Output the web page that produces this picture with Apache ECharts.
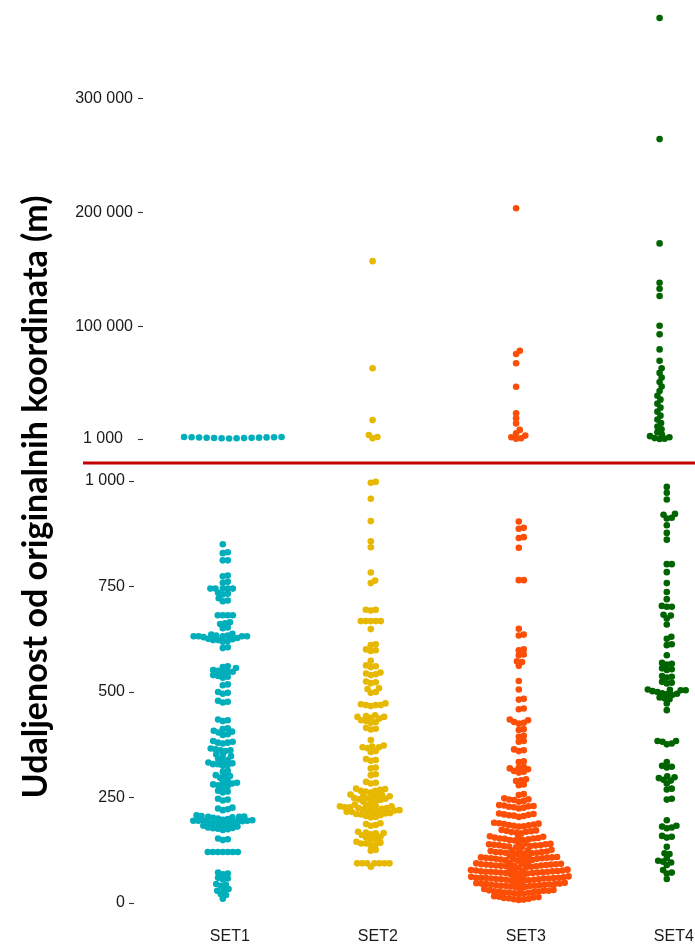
<!DOCTYPE html>
<html>
<head>
<meta charset="utf-8">
<script src="https://cdn.jsdelivr.net/npm/echarts@6/dist/echarts.min.js"></script>
<style>
  html, body { margin: 0; padding: 0; background: #ffffff; }
  #chart { width: 695px; height: 946px; }
</style>
</head>
<body>
<div id="chart"></div>
<script>
// Distance from original coordinates (m), four data sets.
const categories = ['SET1', 'SET2', 'SET3', 'SET4'];

// Values up to 1 000 m (lower panel)
const set1Near = [
  850, 829, 831, 812, 812, 774, 776, 759, 761, 745, 745, 745, 745, 745,
  733, 735, 731, 722, 715, 717, 682, 682, 682, 682, 663, 665, 661, 653, 651,
  632, 632, 632, 634, 630, 636, 628, 632, 638, 626, 632, 634,
  623, 621, 625, 619, 623, 604, 606, 559, 561, 557, 548, 548, 550, 546, 552,
  536, 538, 534, 540, 516, 518, 498, 500, 496, 477, 479, 475, 433, 435, 431,
  412, 414, 406, 404, 408, 400, 398, 380, 380, 382, 378, 384,
  362, 364, 360, 366, 362, 350, 348, 352, 339, 341, 337,
  329, 329, 331, 327, 333, 325, 311, 313, 299, 301, 297, 303,
  285, 287, 283, 289, 281, 277, 275, 279, 264, 266, 262, 245, 247, 243,
  222, 224, 220, 226, 204, 204, 206, 202, 208, 200, 205, 203,
  195, 195, 195, 197, 193, 199, 191, 195, 196, 194,
  187, 189, 185, 191, 183, 188, 177, 179, 175, 181, 173, 178, 176,
  151, 153, 149, 121, 121, 121, 121, 121, 121, 121,
  70, 72, 68, 58, 60, 56, 43, 45, 41, 31, 33, 29, 19, 21, 10
];
const set2Near = [
  996, 998, 958, 905, 857, 843, 783, 764, 758, 695, 695, 693,
  668, 668, 668, 668, 668, 649, 611, 613, 599, 601, 597, 574,
  561, 563, 559, 542, 544, 540, 546, 523, 525, 521, 507, 509, 498, 500,
  469, 469, 471, 467, 473, 469, 441, 443, 439, 445, 441, 437,
  429, 431, 427, 433, 413, 415, 411, 386, 369, 371, 367, 373, 369,
  358, 360, 339, 341, 337, 319, 321, 303, 305, 285, 287, 283,
  266, 268, 264, 270, 262, 266, 271, 253, 255, 251, 257, 249, 253, 256,
  244, 246, 242, 248, 240, 239, 247, 227, 229, 225, 231, 223, 227, 229, 225, 230, 226, 233, 222,
  216, 218, 214, 220, 212, 216, 219, 213, 217, 211, 206, 208, 204, 210, 203,
  185, 187, 183, 189, 165, 167, 163, 169, 161, 166, 153, 155, 151, 157,
  141, 143, 139, 145, 137, 141, 124, 126,
  94, 94, 94, 94, 94, 94, 94, 86
];
const set3Near = [
  904, 887, 889, 865, 867, 842, 765, 765, 650, 634, 636, 599, 601, 587, 589,
  571, 573, 562, 526, 506, 482, 484, 459, 461, 433, 435,
  427, 429, 425, 410, 412, 394, 396, 382, 384, 362, 364, 360, 334, 336,
  319, 321, 317, 323, 311, 313, 309, 291, 293, 289, 279, 281, 256, 258,
  244, 246, 242, 248, 240, 245, 228, 230, 226, 232, 224, 229, 227, 231,
  208, 210, 206, 212, 204, 209, 207, 211,
  185, 187, 183, 189, 181, 186, 184, 188, 182, 190,
  169, 171, 167, 173, 165, 170, 168, 172,
  153, 155, 151, 157, 149, 154, 152, 156, 150, 158, 148, 153,
  137, 139, 135, 141, 133, 138, 136, 140, 134, 142, 132, 137, 139, 135,
  121, 123, 119, 125, 117, 122, 120, 124, 118, 126, 116, 121, 123, 119,
  106, 108, 104, 110, 102, 107, 105, 109, 103, 111, 101, 106, 108, 104, 100, 112, 105, 107,
  90, 92, 88, 94, 86, 91, 89, 93, 87, 95, 85, 90, 92, 88, 84, 96, 91, 89, 93, 87,
  74, 76, 72, 78, 70, 75, 73, 77, 71, 79, 69, 74, 76, 72, 68, 80, 75, 73, 77, 71, 74, 76,
  58, 60, 56, 62, 54, 59, 57, 61, 55, 63, 53, 58, 60, 56, 52, 64, 59, 57, 61, 55, 58, 60,
  43, 45, 41, 47, 39, 44, 42, 46, 40, 48, 38, 43, 45, 41, 37, 49, 44, 42, 46, 40,
  27, 29, 25, 31, 23, 28, 26, 30, 24, 32, 22, 27, 29, 25, 33, 21,
  11, 13, 9, 15, 7, 12, 10, 14, 8, 16
];
const set4Near = [
  986, 972, 956, 920, 922, 911, 913, 895, 877, 861, 803, 803, 784, 758, 737, 720,
  702, 702, 704, 681, 683, 674, 660, 631, 626, 611, 613, 587, 567, 569, 565,
  554, 556, 552, 536, 538, 534, 522, 524, 520, 504, 504, 506, 502, 500, 505,
  495, 497, 493, 496, 485, 487, 483, 473, 457, 384, 384, 382, 376, 378, 334,
  323, 325, 321, 298, 300, 296, 290, 292, 283, 269, 271, 245, 247, 196,
  179, 181, 177, 183, 157, 159, 155, 133, 116, 118, 106, 98, 100, 96, 90, 78, 70, 72, 57
];

// Values above 1 000 m (upper panel)
const set1Far = [1500, 1600, 1700, 1800, 1900, 2000, 2100, 2200, 2300, 2400, 2500, 2600, 2700, 2800];
const set2Far = [157000, 63000, 17600, 4500, 2800, 1600];
const set3Far = [203400, 78400, 75500, 67400, 46800, 23500, 19100, 14700,
  9000, 6000, 4000, 2500, 1600, 1200];
const set4Far = [370300, 264100, 172600, 138100, 132800, 126400, 100400, 92800, 79600, 69700,
  63000, 59000, 55000, 51000, 47000, 43000, 39000, 35500, 32000, 28500, 25000, 21500,
  18000, 15000, 12000, 9500, 7000, 5000, 3500, 2500, 1800, 1300, 1100];

const upperTicks = [1000, 100000, 200000, 300000];
const lowerTicks = [0, 250, 500, 750, 1000];

const palette = ['#00AFBB', '#E7B800', '#FC4E07', '#006400'];
const nearSets = [set1Near, set2Near, set3Near, set4Near];
const farSets = [set1Far, set2Far, set3Far, set4Far];

function thousands(v) {
  return String(v).replace(/\B(?=(\d{3})+(?!\d))/g, ' ');
}

const labelFont = { fontFamily: 'Liberation Sans, Arial, sans-serif', fontSize: 16, color: '#1a1a1a' };
const tickStyle = { show: true, length: 5, lineStyle: { color: '#333333', width: 1.1 } };

const chart = echarts.init(document.getElementById('chart'), null, { renderer: 'canvas' });

const baseOption = {
  animation: false,
  backgroundColor: '#ffffff',
  grid: [
    { left: 143, top: 2.4, width: 602.7, height: 436.6, containLabel: false, outerBoundsMode: 'none' },
    { left: 134, top: 481, width: 621.6, height: 422, containLabel: false, outerBoundsMode: 'none' }
  ],
  xAxis: [
    { gridIndex: 0, type: 'value', min: 0.4, max: 4.6, show: false },
    {
      gridIndex: 1, type: 'value', min: 0.4, max: 4.6,
      axisLine: { show: false }, splitLine: { show: false }, axisTick: { show: false },
      axisLabel: Object.assign({
        customValues: [1, 2, 3, 4],
        formatter: v => '{cat|' + categories[Math.round(v) - 1] + '}',
        rich: { cat: Object.assign({ padding: [0, 0, 0, 14] }, labelFont) },
        margin: 26
      }, labelFont)
    }
  ],
  yAxis: [
    {
      gridIndex: 0, type: 'value', min: 1000, max: 384000,
      axisLine: { show: false }, splitLine: { show: false },
      axisTick: Object.assign({ customValues: upperTicks }, tickStyle),
      axisLabel: Object.assign({
        customValues: upperTicks,
        margin: 10,
        formatter: v => v === 1000 ? '{pad|' + thousands(v) + '}' : thousands(v),
        rich: { pad: Object.assign({ padding: [0, 10, 0, 0] }, labelFont) }
      }, labelFont)
    },
    {
      gridIndex: 1, type: 'value', min: 0, max: 1000, interval: 250,
      axisLine: { show: false }, splitLine: { show: false },
      axisTick: tickStyle,
      axisLabel: Object.assign({ margin: 9, formatter: v => thousands(v) }, labelFont)
    }
  ],
  graphic: [
    {
      type: 'text', x: 36, y: 497, rotation: Math.PI / 2,
      style: {
        text: 'Udaljenost od originalnih koordinata (m)',
        font: 'bold 34px Lato, "Open Sans", sans-serif',
        fill: '#000000', align: 'center', verticalAlign: 'middle'
      }
    },
    {
      type: 'line', shape: { x1: 83, y1: 463, x2: 695, y2: 463 },
      style: { stroke: '#c40000', lineWidth: 3 }
    }
  ],
  series: []
};
chart.setOption(baseOption);

// Beeswarm layout: each point takes the horizontal offset closest to the
// category centre that keeps it at least `gap` px from the points placed before it.
function swarmOffsets(ys, gap) {
  const order = ys.map((_, i) => i).sort((a, b) => ys[b] - ys[a]);
  const xs = new Array(ys.length).fill(0);
  const placed = [];
  for (const i of order) {
    const y = ys[i];
    const near = placed.filter(p => Math.abs(p.y - y) < gap);
    const cand = [0];
    for (const p of near) {
      const dx = Math.sqrt(gap * gap - (p.y - y) * (p.y - y));
      cand.push(p.x + dx, p.x - dx);
    }
    cand.sort((a, b) => Math.abs(a) - Math.abs(b));
    let x = 0;
    for (const c of cand) {
      if (near.every(p => (p.x - c) * (p.x - c) + (p.y - y) * (p.y - y) >= gap * gap - 1e-6)) { x = c; break; }
    }
    xs[i] = x;
    placed.push({ x, y });
  }
  return xs;
}

function swarmPoints(values, catIndex, gridIndex, gap) {
  const finder = { gridIndex };
  const centre = catIndex + 1;
  const unit = chart.convertToPixel(finder, [2, 0])[0] - chart.convertToPixel(finder, [1, 0])[0];
  const ys = values.map(v => chart.convertToPixel(finder, [centre, v])[1]);
  const offs = swarmOffsets(ys, gap);
  return values.map((v, i) => [centre + offs[i] / unit, v]);
}

const nearGap = 5.0;
const farGap = [7.5, 5.0, 5.0, 5.0];

const series = [];
categories.forEach((name, k) => {
  series.push({
    name, type: 'scatter', xAxisIndex: 1, yAxisIndex: 1,
    data: swarmPoints(nearSets[k], k, 1, nearGap),
    symbolSize: 6.6, itemStyle: { color: palette[k], opacity: 1 }, silent: true
  });
  series.push({
    name, type: 'scatter', xAxisIndex: 0, yAxisIndex: 0,
    data: swarmPoints(farSets[k], k, 0, farGap[k]),
    symbolSize: 6.6, itemStyle: { color: palette[k], opacity: 1 }, silent: true
  });
});
chart.setOption({ series });
</script>
</body>
</html>
